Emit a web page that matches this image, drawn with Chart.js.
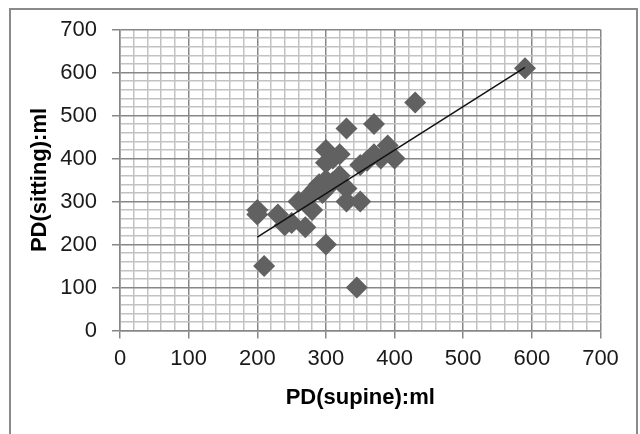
<!DOCTYPE html>
<html>
<head>
<meta charset="utf-8">
<script src="https://cdn.jsdelivr.net/npm/chart.js@4"></script>
<style>
  html, body { margin: 0; padding: 0; background: #ffffff; }
  canvas { display: block; }
</style>
</head>
<body>
<canvas id="c" width="640" height="434"></canvas>
<script>
// Data
const supine  = [590, 430, 370, 330, 390, 400, 380, 370, 350, 360, 300, 300, 320, 310, 320, 330, 330, 350, 345, 300, 210, 200, 200, 230, 240, 250, 260, 270, 280, 280, 290, 300, 270, 310, 285, 295];
const sitting = [610, 530, 480, 470, 430, 400, 400, 410, 385, 395, 420, 390, 410, 400, 360, 330, 300, 300, 100, 200, 150, 280, 270, 270, 245, 250, 300, 240, 280, 320, 340, 350, 305, 345, 330, 320];
const trendX = [200, 590];
const trendY = [217, 612];
const tickLabels = [0, 100, 200, 300, 400, 500, 600, 700];
const xTitle = 'PD(supine):ml';
const yTitle = 'PD(sitting):ml';

const MAJOR = '#878787';
const MINOR = '#c2c2c2';
const isMajor = v => tickLabels.includes(v);

const gridOpts = {
  color: ctx => (ctx.tick && isMajor(ctx.tick.value)) ? MAJOR : MINOR,
  lineWidth: 1.5,
  drawTicks: true,
  tickLength: 8,
  tickColor: ctx => (ctx.tick && isMajor(ctx.tick.value)) ? MAJOR : 'rgba(0,0,0,0)',
  tickWidth: 1.5
};
const tickFont = { family: '"Liberation Sans", Arial, sans-serif', size: 22 };
const titleFont = { family: '"Liberation Sans", Arial, sans-serif', size: 22, weight: 'bold' };

const frame = {
  id: 'frame',
  beforeDraw(chart) {
    const c = chart.ctx;
    c.save();
    c.fillStyle = '#ffffff';
    c.fillRect(0, 0, chart.width, chart.height);
    c.strokeStyle = '#8a8a8a';
    c.lineWidth = 2;
    c.strokeRect(10, 9, 627, 460);
    c.restore();
  }
};

new Chart(document.getElementById('c'), {
  type: 'scatter',
  data: {
    datasets: [
      {
        type: 'line',
        data: trendX.map((x, i) => ({ x: x, y: trendY[i] })),
        borderColor: '#111111',
        borderWidth: 1.5,
        pointRadius: 0,
        fill: false,
        order: 0
      },
      {
        data: supine.map((x, i) => ({ x: x, y: sitting[i] })),
        pointStyle: 'rectRot',
        pointRadius: 11,
        backgroundColor: '#616161',
        borderColor: '#616161',
        borderWidth: 0,
        order: 1
      }
    ]
  },
  options: {
    responsive: false,
    devicePixelRatio: 1,
    animation: false,
    layout: { padding: { left: 0, top: 29.5, right: 39.5, bottom: 0 } },
    plugins: { legend: { display: false }, tooltip: { enabled: false } },
    scales: {
      x: {
        type: 'linear',
        min: 0, max: 700,
        afterFit: s => { s.height = 103.5; },
        ticks: {
          stepSize: 20, autoSkip: false, maxRotation: 0,
          padding: 7, color: '#1a1a1a', font: tickFont,
          callback: v => isMajor(v) ? String(v) : ''
        },
        grid: gridOpts,
        border: { color: MAJOR, width: 1.5 },
        title: { display: true, text: xTitle, color: '#000000', font: titleFont, padding: { top: 0, bottom: 22.8 } }
      },
      y: {
        type: 'linear',
        min: 0, max: 700,
        afterFit: s => { s.width = 120; },
        ticks: {
          stepSize: 20, autoSkip: false,
          padding: 15, color: '#1a1a1a', font: tickFont,
          callback: v => isMajor(v) ? String(v) : ''
        },
        grid: gridOpts,
        border: { color: MAJOR, width: 1.5 },
        title: { display: true, text: yTitle, color: '#000000', font: titleFont, padding: { top: 26.8, bottom: 0 } }
      }
    }
  },
  plugins: [frame]
});
</script>
</body>
</html>
